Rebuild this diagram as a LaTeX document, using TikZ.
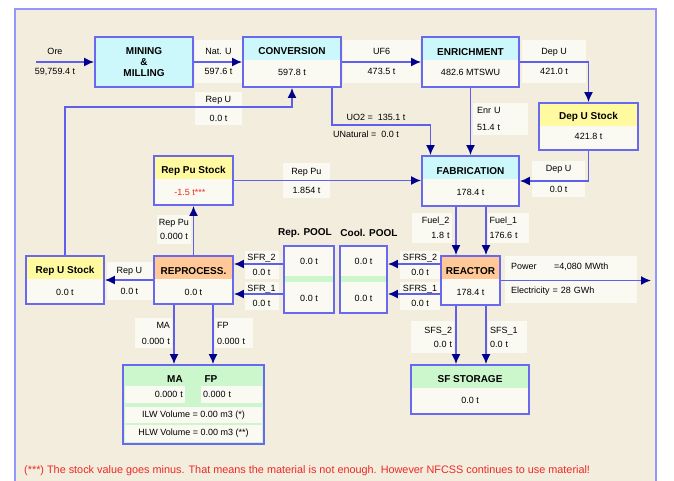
\documentclass[tikz,border=0pt]{standalone}
\usepackage{fontspec}
\setmainfont{Liberation Sans}
\usetikzlibrary{arrows.meta,positioning,calc}
\definecolor{framec}{RGB}{150,150,250}
\definecolor{beige}{RGB}{243,237,221}
\definecolor{boxc}{RGB}{105,105,240}
\definecolor{linec}{RGB}{95,95,235}
\definecolor{tipc}{RGB}{0,0,140}
\definecolor{cyanh}{RGB}{204,248,252}
\definecolor{yellowh}{RGB}{255,250,160}
\definecolor{orangeh}{RGB}{255,200,150}
\definecolor{greenh}{RGB}{204,247,204}
\definecolor{bodyc}{RGB}{250,249,242}
\definecolor{redc}{RGB}{240,40,40}
\newcommand{\lblfont}{\fontsize{9}{10}\selectfont}
\newcommand{\hdrfont}{\fontsize{10}{11}\selectfont\bfseries}

\begin{document}
\begin{tikzpicture}[x=1pt,y=-1pt,
  flow/.style={draw=linec, line width=1.6pt, -{Latex[length=10pt,width=9pt,color=tipc]}},
  fcbox/.style n args={3}{draw=boxc, line width=1.8pt, fill=bodyc, minimum width=#1, minimum height=#2, inner sep=0pt,
    path picture={\fill[#3] (path picture bounding box.north west) rectangle ([yshift=-23pt]path picture bounding box.north east);}},
  pool/.style={draw=boxc, line width=1.8pt, fill=bodyc, minimum width=#1, minimum height=67, inner sep=0pt,
    path picture={\fill[greenh] ([yshift=-30pt]path picture bounding box.north west) rectangle ([yshift=-36pt]path picture bounding box.north east);}},
  hdr/.style={font=\hdrfont, inner sep=0pt},
  val/.style={font=\lblfont, inner sep=0pt},
  lbl/.style={font=\lblfont, inner sep=0pt, align=center},
  lab/.style={fill=bodyc, font=\lblfont, inner xsep=2pt, inner ysep=0pt, align=center},
  cell/.style={fill=bodyc, font=\lblfont, inner xsep=2pt, inner ysep=0pt}]
\useasboundingbox (0,0) rectangle (674,480);
\fill[white] (0,0) rectangle (674,480);
% outer frame
\draw[framec, fill=beige, line width=1.3pt] (15,9) rectangle (656,500);

% facilities
\node[fcbox={98}{50}{cyanh}, fill=cyanh, font=\hdrfont, align=center] (mining) at (144,62) {MINING\\\&\\MILLING};
\node[fcbox={98}{50}{cyanh}] (conv) at (292,62) {};
\node[hdr] (convt) at (292,51) {CONVERSION};
\node[val] (convv) at (292,72) {597.8 t};
\node[fcbox={97}{50}{cyanh}] (enr) at (470.5,62) {};
\node[hdr] (enrt) at (470.5,52) {ENRICHMENT};
\node[val] (enrv) at (470.5,72) {482.6 MTSWU};
\node[fcbox={99}{47}{yellowh}] (depu) at (588.5,126.5) {};
\node[hdr] (deput) at (588.5,116.5) {Dep U Stock};
\node[val] (depuv) at (588.5,136) {421.8 t};
\node[fcbox={97}{50}{cyanh}] (fab) at (470.5,181) {};
\node[hdr] (fabt) at (470.5,171) {FABRICATION};
\node[val] (fabv) at (470.5,192) {178.4 t};
\node[fcbox={79}{49}{yellowh}] (reppu) at (193.5,180.5) {};
\node[hdr] (reppt) at (193.5,171) {Rep Pu Stock};
\node[val, text=redc] (reppv) at (190,192) {-1.5 t***};
\node[fcbox={59}{49}{orangeh}] (reactor) at (470.5,280.5) {};
\node[hdr] (reactt) at (470.5,271) {REACTOR};
\node[val] (reactv) at (470.5,292) {178.4 t};
\node[fcbox={79}{48}{orangeh}] (reproc) at (193.5,280) {};
\node[hdr] (reprt) at (193.5,271) {REPROCESS.};
\node[val] (reprv) at (193.5,292) {0.0 t};
\node[fcbox={78}{48}{yellowh}] (repu) at (65,280) {};
\node[hdr] (reput) at (65,271) {Rep U Stock};
\node[val] (repuv) at (65,292) {0.0 t};

% pools
\node[pool=50] (reppool) at (309,279.5) {};
\node[pool=47] (cool) at (363.5,279.5) {};
\node[hdr] (reppoolt) at (305,233) {Rep. POOL};
\node[hdr] (coolt) at (369,233) {Cool. POOL};
\node[val] (rp2v) at (309,261) {0.0 t};
\node[val] (rp1v) at (309,298) {0.0 t};
\node[val] (cp2v) at (363.5,261) {0.0 t};
\node[val] (cp1v) at (363.5,298) {0.0 t};

% wastes and spent fuel
\node[draw=boxc, line width=1.8pt, fill=greenh, minimum width=141, minimum height=79] (wastes) at (193.5,404.5) {};
\node[hdr] (mah) at (175,379) {MA};
\node[hdr] (fph) at (211,379) {FP};
\node[cell, text width=56, minimum height=17, align=right] (mav) at (155,394.5) {0.000 t};
\node[cell, text width=57, minimum height=17, align=left] (fpv) at (231.5,394.5) {0.000 t};
\node[cell, minimum width=137, minimum height=16] (ilw) at (193.5,415) {ILW Volume = 0.00 m3 (*)};
\node[cell, minimum width=137, minimum height=17] (hlw) at (193.5,433.5) {HLW Volume = 0.00 m3 (**)};
\node[fcbox={118}{49}{greenh}] (sfstor) at (470,389.5) {};
\node[hdr] (sft) at (470,379) {SF STORAGE};
\node[val] (sfv) at (470,400) {0.0 t};

% flow labels
\node[lbl] (orel) at (55,62) {Ore\\[10pt]59,759.4 t};
\node[lab, minimum width=47, minimum height=43] (natul) at (218.5,61.5) {Nat. U\\[10pt]597.6 t};
\node[lab, minimum width=77, minimum height=43] (uf6l) at (381.5,61.5) {UF6\\[10pt]473.5 t};
\node[lab, minimum width=64, minimum height=43] (depul) at (554,61.5) {Dep U\\[10pt]421.0 t};
\node[lab, text width=47, minimum height=32, inner xsep=4pt, align=left] (enrul) at (500.5,119) {Enr U\\[7pt]51.4 t};
\node[lbl] (uo2l) at (376,117) {UO2 = \ 135.1 t};
\node[lbl] (unatl) at (366,134) {UNatural = \ 0.0 t};
\node[lab, minimum width=47, minimum height=33] (repul) at (218.5,108.5) {Rep U\\[9pt]0.0 t};
\node[lab, minimum width=47, minimum height=35] (reppul) at (306.5,180.5) {Rep Pu\\[9pt]1.854 t};
\node[lab, minimum width=53, minimum height=36] (depul2) at (558.5,179) {Dep U\\[11pt]0.0 t};
\node[lab, text width=36, minimum height=30, align=right] (fuel2l) at (431.5,228) {Fuel\_2\\[5pt]1.8 t};
\node[lab, text width=37, minimum height=30, align=left] (fuel1l) at (508,228) {Fuel\_1\\[5pt]176.6 t};
\node[lab, text width=120, minimum height=47, inner xsep=6pt, align=left] (pwrl) at (571,279.5) {\makebox[43pt][l]{Power}=4,080 MWth\\[14pt]Electricity = 28 GWh};
\node[lab, minimum width=40, minimum height=28] (sfrs2l) at (420,265) {SFRS\_2\\[5pt]0.0 t};
\node[lab, minimum width=40, minimum height=28] (sfrs1l) at (420,296) {SFRS\_1\\[5pt]0.0 t};
\node[lab, minimum width=34, minimum height=28] (sfr2l) at (261.5,265) {SFR\_2\\[5pt]0.0 t};
\node[lab, minimum width=34, minimum height=28] (sfr1l) at (261.5,296) {SFR\_1\\[5pt]0.0 t};
\node[lab, minimum width=46, minimum height=38] (repul2) at (129.5,281) {Rep U\\[11pt]0.0 t};
\node[lab, minimum width=32, minimum height=29] (reppul2) at (174,229.5) {Rep Pu\\[4pt]0.000 t};
\node[lab, text width=33, minimum height=30, align=right] (mal) at (153.5,333) {MA\\[6pt]0.000 t};
\node[lab, text width=34, minimum height=30, align=left] (fpl) at (234,333) {FP\\[6pt]0.000 t};
\node[lab, text width=39, minimum height=32, align=right] (sfs2l) at (432.5,337) {SFS\_2\\[4pt]0.0 t};
\node[lab, text width=35, minimum height=32, align=left] (sfs1l) at (507.5,337) {SFS\_1\\[4pt]0.0 t};
\node[font=\fontsize{10.85}{12}\selectfont, text=redc, anchor=west, inner sep=0pt] (note) at (24,471) {(***) The stock value goes minus. That means the material is not enough. However NFCSS continues to use material!};

% flows
\coordinate (ore) at (36,62);
\coordinate (pwr) at (651,280.5);
\coordinate (row2) at (0,264);
\coordinate (row1) at (0,294);
\draw[flow] (ore) -- (mining.west);
\draw[flow] (mining.east) -- (conv.west);
\draw[flow] (conv.east) -- (enr.west);
\draw[flow] (enr.east) -| (depu.north);
\draw[flow] (enr.south) -- (fab.north);
\draw[flow] ([xshift=40pt]conv.south) |- ([xshift=-40pt,yshift=30pt]fab.north) -- ([xshift=-40pt]fab.north);
\draw[flow] (repu.north) |- ([yshift=-19pt]conv.south) -- (conv.south);
\draw[flow] (reppu.east) -- (reppu.east -| fab.west);
\draw[flow] (depu.south) |- (fab.east);
\draw[flow] ([xshift=-14.5pt]fab.south) -- ([xshift=-14.5pt]reactor.north);
\draw[flow] ([xshift=15.5pt]fab.south) -- ([xshift=15.5pt]reactor.north);
\draw[flow] (reactor.west |- row2) -- (cool.east |- row2);
\draw[flow] (reactor.west |- row1) -- (cool.east |- row1);
\draw[flow] (reppool.west |- row2) -- (reproc.east |- row2);
\draw[flow] (reppool.west |- row1) -- (reproc.east |- row1);
\draw[flow] (reproc.west) -- (repu.east);
\draw[flow] (reproc.north) -- (reppu.south);
\draw[flow] ([xshift=-19.5pt]reproc.south) -- ([xshift=-19.5pt]reproc.south |- wastes.north);
\draw[flow] ([xshift=19.5pt]reproc.south) -- ([xshift=19.5pt]reproc.south |- wastes.north);
\draw[flow] ([xshift=-14.5pt]reactor.south) -- ([xshift=-14.5pt]reactor.south |- sfstor.north);
\draw[flow] ([xshift=15.5pt]reactor.south) -- ([xshift=15.5pt]reactor.south |- sfstor.north);
\draw[flow] (reactor.east) -- (pwr);
\end{tikzpicture}
\end{document}
